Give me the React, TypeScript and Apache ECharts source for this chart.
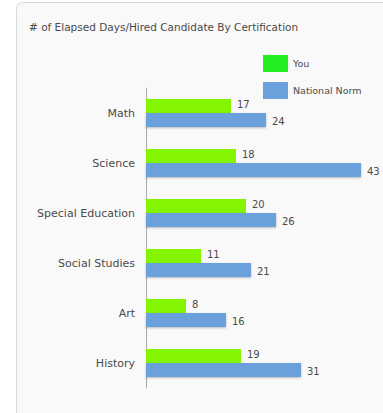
import React, { useEffect, useRef } from "react";
import * as echarts from "echarts";

const categories = ["Math", "Science", "Special Education", "Social Studies", "Art", "History"];
const youValues = [17, 18, 20, 11, 8, 19];
const normValues = [24, 43, 26, 21, 16, 31];
const seriesNames = ["You", "National Norm"];
const titleText = "# of Elapsed Days/Hired Candidate By Certification";

const FONT = "'DejaVu Sans', sans-serif";

export default function App() {
  const ref = useRef<HTMLDivElement>(null);
  useEffect(() => {
    if (!ref.current) return;
    const chart = echarts.init(ref.current, null, { renderer: "svg" });
    const cats = [...categories].reverse();
    const you = [...youValues].reverse();
    const norm = [...normValues].reverse();
    chart.setOption({
      animation: false,
      backgroundColor: "#ffffff",
      graphic: [
        {
          type: "rect",
          z: -10,
          silent: true,
          shape: { x: 16.5, y: 2.5, width: 420, height: 460, r: 6 },
          style: { fill: "#f9f9f9", stroke: "#d8d8d8", lineWidth: 1 },
        },
      ],
      title: {
        text: titleText,
        left: 24,
        top: 16,
        textStyle: { fontFamily: FONT, fontSize: 10.5, fontWeight: "normal", color: "#4a4a4a" },
      },
      legend: {
        orient: "vertical",
        left: 258,
        top: 50,
        icon: "rect",
        itemWidth: 25,
        itemHeight: 17,
        itemGap: 10,
        textStyle: { fontFamily: FONT, fontSize: 9.5, color: "#4a4a4a" },
        data: [
          { name: seriesNames[0], itemStyle: { color: "#22ee22" } },
          { name: seriesNames[1], itemStyle: { color: "#6aa1dc" } },
        ],
      },
      grid: { left: 146, top: 88, width: 225, height: 300, containLabel: false },
      xAxis: {
        type: "value",
        min: 0,
        max: 45,
        show: false,
      },
      yAxis: {
        type: "category",
        data: cats,
        axisLine: { show: true, lineStyle: { color: "#aaa", width: 1 } },
        axisTick: { show: false },
        axisLabel: { fontFamily: FONT, fontSize: 11, color: "#4a4a4a", margin: 11 },
      },
      series: [
        {
          name: seriesNames[0],
          type: "bar",
          data: you,
          barWidth: 14,
          barGap: "0%",
          itemStyle: { color: "#84f500" },
          label: { show: true, position: "right", distance: 6, fontFamily: FONT, fontSize: 10, color: "#4a4a4a", offset: [0, -2] },
        },
        {
          name: seriesNames[1],
          type: "bar",
          data: norm,
          barWidth: 14,
          barGap: "0%",
          itemStyle: { color: "#6aa1dc", shadowColor: "rgba(0,0,0,0.25)", shadowBlur: 2, shadowOffsetY: 1 },
          label: { show: true, position: "right", distance: 6, fontFamily: FONT, fontSize: 10, color: "#4a4a4a", offset: [0, 1] },
        },
      ],
    });
    return () => chart.dispose();
  }, []);
  return (
    <div style={{ position: "fixed", left: 0, top: 0, width: 383, height: 413 }}>
      <div ref={ref} style={{ width: 383, height: 413 }} />
    </div>
  );
}
